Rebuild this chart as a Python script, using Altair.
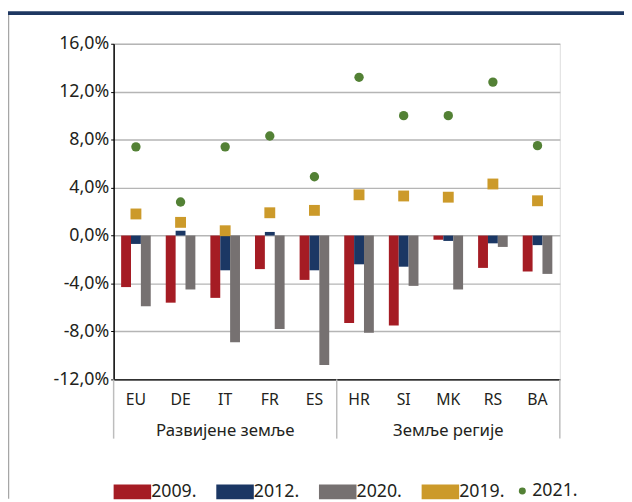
import altair as alt
import pandas as pd

countries = ["EU", "DE", "IT", "FR", "ES", "HR", "SI", "MK", "RS", "BA"]
v2009 = [-4.3, -5.6, -5.2, -2.8, -3.7, -7.3, -7.5, -0.35, -2.7, -3.0]
v2012 = [-0.7, 0.4, -2.9, 0.3, -2.9, -2.4, -2.6, -0.45, -0.65, -0.8]
v2020 = [-5.9, -4.5, -8.9, -7.8, -10.8, -8.1, -4.2, -4.5, -0.95, -3.2]
v2019 = [1.8, 1.1, 0.4, 1.9, 2.1, 3.4, 3.3, 3.2, 4.3, 2.9]
v2021 = [7.4, 2.8, 7.4, 8.3, 4.9, 13.2, 10.0, 10.0, 12.8, 7.5]

group_labels = ["Развијене земље", "Земље регије"]
group_centers = ["IT", "MK"]

bar_series = ["2009.", "2012.", "2020."]
legend_series = ["2009.", "2012.", "2020.", "2019."]
legend_colors = ["#a51c24", "#1b3764", "#767171", "#cc9a2a"]
green = "#538135"

rows = []
for s, vals in zip(bar_series, [v2009, v2012, v2020]):
    for c, v in zip(countries, vals):
        rows.append({"country": c, "series": s, "value": v})
bars_df = pd.DataFrame(rows)
sq_df = pd.DataFrame({"country": countries, "series": "2019.", "value": v2019})
dot_df = pd.DataFrame({"country": countries, "series": "2021.", "value": v2021})
grp_df = pd.DataFrame({"country": group_centers, "label": group_labels})
sep_left = pd.DataFrame({"country": ["EU", "HR"]})
sep_right = pd.DataFrame({"country": ["BA"]})
one = pd.DataFrame({"a": [0]})

FONT = "Noto Sans"
TXT = "#231f20"
W, H = 452, 340

xscale = alt.Scale(domain=countries, paddingInner=0, paddingOuter=0)
yscale = alt.Scale(domain=[-12, 16], nice=False, zero=False)

label_expr = "(datum.value < 0 ? '-' : '') + replace(format(abs(datum.value), '.1f'), '.', ',') + '%'"

x_enc = alt.X("country:N", scale=xscale, sort=countries,
              axis=alt.Axis(title=None, labelAngle=0, ticks=False, labelFont=FONT,
                            labelFontSize=16, labelColor=TXT, labelPadding=12,
                            domainColor="#000", domainWidth=1.5))
y_enc = alt.Y("value:Q", scale=yscale,
              axis=alt.Axis(title=None, values=[-12, -8, -4, 0, 4, 8, 12, 16],
                            labelExpr=label_expr, labelFont=FONT, labelFontSize=18,
                            labelColor=TXT, tickSize=3, tickColor="#000", labelPadding=2,
                            domainColor="#000", domainWidth=1.5, gridColor="#b5b5b5",
                            gridWidth=1.5))

legend1 = alt.Legend(title=None, orient="none", legendX=9, legendY=444, direction="horizontal",
                     symbolType="M-1.9,-0.75L1.9,-0.75L1.9,0.75L-1.9,0.75Z", symbolSize=400,
                     symbolStrokeWidth=0, labelOffset=9, columnPadding=19, padding=0,
                     labelFont=FONT, labelFontSize=18, labelColor=TXT, symbolOpacity=1)
legend2 = alt.Legend(title=None, orient="none", legendX=405, legendY=444, direction="horizontal",
                     symbolType="circle", symbolSize=50, symbolStrokeWidth=0, labelOffset=1,
                     padding=0, labelFont=FONT, labelFontSize=18, labelColor=TXT, symbolOpacity=1)

color1 = alt.Color("series:N", scale=alt.Scale(domain=legend_series, range=legend_colors),
                   legend=legend1)

bars = alt.Chart(bars_df).mark_bar().encode(
    x=x_enc,
    xOffset=alt.XOffset("series:N", sort=bar_series,
                        scale=alt.Scale(domain=bar_series, paddingInner=0, paddingOuter=0.76)),
    y=y_enc,
    color=color1,
)
squares = alt.Chart(sq_df).mark_square(size=121, opacity=1).encode(
    x=alt.X("country:N", scale=xscale, sort=countries),
    y=alt.Y("value:Q", scale=yscale),
    color=color1,
)
dots = alt.Chart(dot_df).mark_circle(size=90, opacity=1).encode(
    x=alt.X("country:N", scale=xscale, sort=countries),
    y=alt.Y("value:Q", scale=yscale),
    color=alt.Color("series:N", scale=alt.Scale(domain=["2021."], range=[green]), legend=legend2),
)
grp = alt.Chart(grp_df).mark_text(font=FONT, fontSize=17, color=TXT, baseline="alphabetic").encode(
    x=alt.X("country:N", scale=xscale, sort=countries),
    y=alt.value(H + 57),
    text="label:N",
)
sep1 = alt.Chart(sep_left).mark_rule(color="#bdbdbd", strokeWidth=1.5).encode(
    x=alt.X("country:N", scale=xscale, sort=countries, bandPosition=0),
    y=alt.value(H), y2=alt.value(H + 60),
)
sep2 = alt.Chart(sep_right).mark_rule(color="#bdbdbd", strokeWidth=1.5).encode(
    x=alt.X("country:N", scale=xscale, sort=countries, bandPosition=1),
    y=alt.value(H), y2=alt.value(H + 60),
)
header = alt.Chart(one).mark_rect(color="#1e3761").encode(
    x=alt.value(-107), x2=alt.value(W + 65), y=alt.value(-33), y2=alt.value(-29),
)
border = alt.Chart(one).mark_rule(color="#a6a6a6", strokeWidth=1.5).encode(
    x=alt.value(-106.5), y=alt.value(-29), y2=alt.value(H + 121),
)

chart = alt.layer(
    alt.layer(bars, squares), dots, sep1, sep2, grp, header, border
).resolve_scale(color="independent").resolve_legend(color="independent").properties(
    width=W, height=H,
    autosize=alt.AutoSizeParams(type="none"),
    padding={"left": 107, "top": 33, "right": 65, "bottom": 121},
).configure_view(stroke="#3a3a3a", strokeWidth=1.5).configure(background="white")

chart.save("out.html", embed_options={"renderer": "svg", "actions": False})
